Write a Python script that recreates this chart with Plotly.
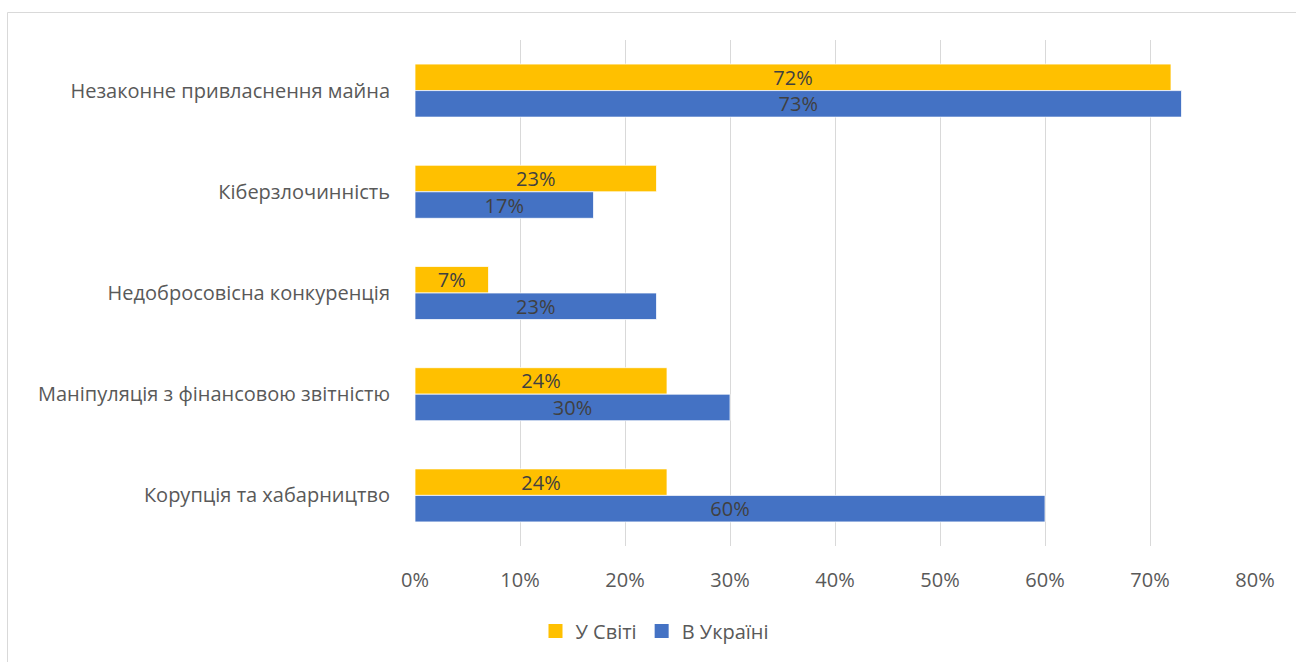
import plotly.graph_objects as go

categories = [
    "Незаконне привласнення майна",
    "Кіберзлочинність",
    "Недобросовісна конкуренція",
    "Маніпуляція з фінансовою звітністю",
    "Корупція та хабарництво",
]
world = [72, 23, 7, 24, 24]
ukraine = [73, 17, 23, 30, 60]
series_names = ["У Світі", "В Україні"]
series_colors = ["#FFC000", "#4472C4"]
tick_vals = [0, 10, 20, 30, 40, 50, 60, 70, 80]
tick_text = ["0%", "10%", "20%", "30%", "40%", "50%", "60%", "70%", "80%"]

FONT = "Open Sans"
FS = 20
W, H = 1296, 662
L, R, T, B = 415, 41, 40, 116
pw, ph = W - L - R, H - T - B

fig = go.Figure()
for name, vals, color in zip(series_names, [world, ukraine], series_colors):
    fig.add_trace(go.Bar(
        y=categories, x=vals, name=name, orientation="h",
        marker=dict(color=color, line=dict(color="white", width=0.75)),
        text=[f"{v}%" for v in vals], textposition="inside",
        insidetextanchor="middle",
        textfont=dict(family=FONT, size=FS, color="#404040"),
        constraintext="none", cliponaxis=False, showlegend=False,
    ))
# legend entries with larger square symbols
for name, color in zip(series_names, series_colors):
    fig.add_trace(go.Scatter(
        x=[None], y=[None], mode="markers", name=name,
        marker=dict(symbol="square", size=14, color=color),
        showlegend=True, hoverinfo="skip",
    ))

def px2x(px):
    return (px - L) / pw

def py2y(py):
    return (H - B - py) / ph

fig.add_shape(type="rect", xref="paper", yref="paper",
              x0=px2x(7.5), x1=px2x(1310), y0=py2y(12.5), y1=py2y(680),
              line=dict(color="#D9D9D9", width=1), fillcolor="rgba(0,0,0,0)", layer="below")

fig.update_layout(
    width=W, height=H,
    margin=dict(l=L, r=R, t=T, b=B, pad=0),
    paper_bgcolor="white", plot_bgcolor="white",
    barmode="group", bargap=0.476, bargroupgap=0,
    font=dict(family=FONT, size=FS, color="#595959"),
    uniformtext=dict(mode=False),
    legend=dict(orientation="h", x=px2x(655), xanchor="center", y=py2y(631), yanchor="middle",
                font=dict(family=FONT, size=FS, color="#595959"),
                itemwidth=30, traceorder="normal"),
    showlegend=True,
)
fig.update_xaxes(range=[0, 80], tickvals=tick_vals, ticktext=tick_text,
                 showgrid=True, gridcolor="#D9D9D9", gridwidth=1.3,
                 zeroline=False, showline=False, ticks="", ticklabelstandoff=20,
                 tickfont=dict(family=FONT, size=FS, color="#595959"))
fig.update_yaxes(autorange="reversed", showgrid=False, showline=False, ticks="",
                 ticklabelstandoff=24,
                 tickfont=dict(family=FONT, size=FS, color="#595959"))

fig.write_html("out.html")
